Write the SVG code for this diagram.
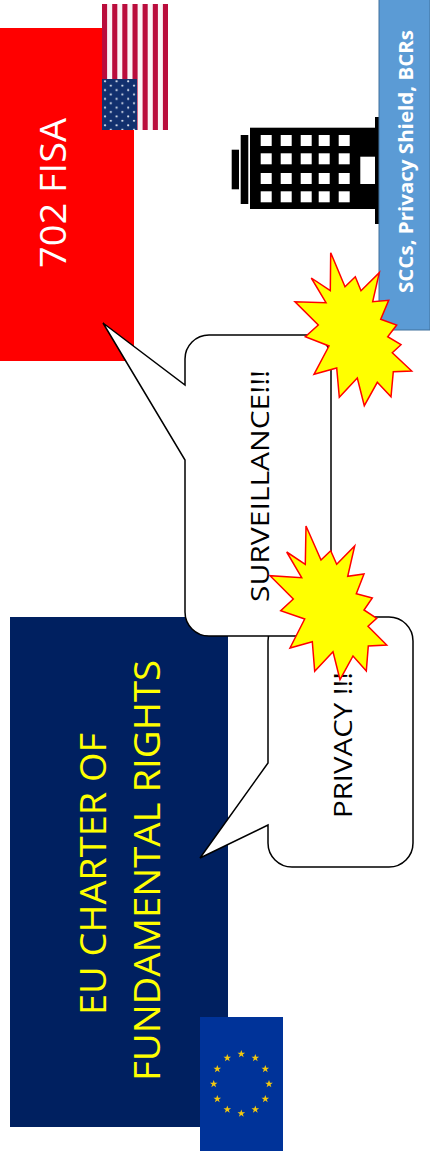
<svg xmlns="http://www.w3.org/2000/svg" width="430" height="1160" viewBox="0 0 430 1160">
<style>
.t{font-family:"Open Sans","Liberation Sans",sans-serif}
.call{fill:#fff;stroke:#000;stroke-width:1.5}
.burst{fill:#ff0;stroke:#f00;stroke-width:1.5}
.st{fill:#ba0c3c}
.w{fill:#fff}
.bk{fill:#000}
.eu{fill:#fc0;font-family:"DejaVu Sans",sans-serif;font-size:10px;text-anchor:middle}
</style>
<defs>
<pattern id="stars" x="102" y="79" width="11.6" height="8.8" patternUnits="userSpaceOnUse">
<rect width="11.6" height="8.8" fill="#12306e"/>
<circle cx="3" cy="2.2" r="1.1" fill="#dfe6f2"/>
<circle cx="8.8" cy="6.6" r="1.1" fill="#dfe6f2"/>
</pattern>
<polygon id="star" points="0,-4 1,-1.3 3.8,-1.2 1.5,0.5 2.4,3.2 0,1.6 -2.4,3.2 -1.5,0.5 -3.8,-1.2 -1,-1.3" fill="#f2c80f"/>
</defs>
<g id="fisa">
<rect x="0" y="28" width="134" height="333" fill="#f00"/>
<text class="t" transform="translate(66,268) rotate(-90)" font-size="36" fill="#fff" textLength="150" lengthAdjust="spacingAndGlyphs">702 FISA</text>
</g>
<g id="us-flag">
<rect x="102" y="4" width="66" height="126" fill="#fbf3f6"/>
<rect class="st" x="102" y="4" width="5.1" height="126"/>
<rect class="st" x="112.2" y="4" width="5.1" height="126"/>
<rect class="st" x="122.3" y="4" width="5.1" height="126"/>
<rect class="st" x="132.5" y="4" width="5.1" height="126"/>
<rect class="st" x="142.6" y="4" width="5.1" height="126"/>
<rect class="st" x="152.8" y="4" width="5.1" height="126"/>
<rect class="st" x="162.9" y="4" width="5.1" height="126"/>
<rect x="102" y="79" width="35" height="51" fill="url(#stars)"/>
</g>
<g id="building">
<rect class="bk" x="250" y="127.700" width="125" height="81.300"/>
<rect class="bk" x="375" y="117" width="6" height="107"/>
<rect class="bk" x="240.700" y="135" width="7.600" height="69"/>
<rect class="bk" x="231.700" y="149.700" width="7.300" height="39.600"/>
<g class="w">
<rect x="260.700" y="135" width="11" height="11"/><rect x="280.700" y="135" width="11" height="11"/><rect x="300.700" y="135" width="11" height="11"/><rect x="318.700" y="135" width="11" height="11"/><rect x="338.700" y="135" width="11" height="11"/>
<rect x="260.700" y="153.300" width="11" height="11"/><rect x="280.700" y="153.300" width="11" height="11"/><rect x="300.700" y="153.300" width="11" height="11"/><rect x="318.700" y="153.300" width="11" height="11"/><rect x="338.700" y="153.300" width="11" height="11"/>
<rect x="260.700" y="173" width="11" height="11"/><rect x="280.700" y="173" width="11" height="11"/><rect x="300.700" y="173" width="11" height="11"/><rect x="318.700" y="173" width="11" height="11"/><rect x="338.700" y="173" width="11" height="11"/>
<rect x="260.700" y="191.300" width="11" height="11"/><rect x="280.700" y="191.300" width="11" height="11"/><rect x="300.700" y="191.300" width="11" height="11"/><rect x="318.700" y="191.300" width="11" height="11"/><rect x="338.700" y="191.300" width="11" height="11"/>
<rect x="360.300" y="156.700" width="14.700" height="27.300"/>
</g>
</g>
<g id="mechanisms">
<path d="M379,-6H430V330H387Q379,330 379,322Z" fill="#5b9bd5" stroke="#41719c" stroke-width="1"/>
<text class="t" transform="translate(413,293) rotate(-90)" font-size="19" font-weight="700" fill="#fff" textLength="263" lengthAdjust="spacingAndGlyphs">SCCs, Privacy Shield, BCRs</text>
</g>
<g id="eu-charter">
<rect x="10" y="617" width="218" height="510" fill="#002060"/>
<text class="t" transform="translate(106,1015) rotate(-90)" font-size="36" fill="#ff0" textLength="282" lengthAdjust="spacingAndGlyphs">EU CHARTER OF</text>
<text class="t" transform="translate(160,1081) rotate(-90)" font-size="36" fill="#ff0" textLength="421" lengthAdjust="spacingAndGlyphs">FUNDAMENTAL RIGHTS</text>
</g>
<g id="eu-flag">
<rect x="200" y="1017" width="83" height="134" fill="#003399"/>
<use href="#star" x="241.300" y="1054"/><use href="#star" x="255.300" y="1058"/><use href="#star" x="265.300" y="1069"/><use href="#star" x="269" y="1084"/><use href="#star" x="265.300" y="1099"/><use href="#star" x="255.300" y="1109.500"/><use href="#star" x="241.300" y="1113.500"/><use href="#star" x="227.300" y="1109.500"/><use href="#star" x="217.300" y="1099"/><use href="#star" x="213.700" y="1084"/><use href="#star" x="217.300" y="1069"/><use href="#star" x="227.300" y="1058"/>
</g>
<g id="privacy-callout">
<path class="call" d="M292,617H389A24,24 0 0 1 413,641V843A24,24 0 0 1 389,867H292A24,24 0 0 1 268,843V825L200,858L268,763V641A24,24 0 0 1 292,617Z"/>
<text class="t" transform="translate(352,818) rotate(-90)" font-size="25" fill="#000" textLength="146" lengthAdjust="spacingAndGlyphs">PRIVACY !!!</text>
</g>
<g id="surveillance-callout">
<path class="call" d="M209,335H307A24,24 0 0 1 331,359V612A24,24 0 0 1 307,636H209A24,24 0 0 1 185,612V460L103,323L185,385V359A24,24 0 0 1 209,335Z"/>
<text class="t" transform="translate(269,602) rotate(-90)" font-size="25" fill="#000" textLength="232" lengthAdjust="spacingAndGlyphs">SURVEILLANCE!!!</text>
</g>
<g id="burst-top">
<polygon class="burst" points="330.700,252.700 345,286.700 355.300,276.700 361,290.700 379.300,272.700 372.700,301.700 388.700,300.300 380.700,319.300 396.700,325 387.700,336.700 401,344.700 392.300,352.700 411.700,371 393.300,371.700 391,396.700 377.300,382.300 364.300,405.700 357.300,378 339.300,397.300 336.700,368 314,374.300 329,346 305.300,336.700 318.300,325 295,301.700 326,302.700 311.300,278 330.300,290.700"/>
</g>
<g id="burst-bottom">
<polygon class="burst" points="306,526 321,560 330.700,550.700 336.700,564.300 354.700,546 347.700,576.300 364,574 356.300,593.700 372.300,598 364,610 376.700,618.300 368,626.300 386.700,645 368.300,646 366.300,671 353,656 340,679.700 333,651.700 314.700,671.300 312.300,641.700 290,648 304.700,619 280.700,610.700 293.300,599 270,575.700 301.700,577.700 286.700,552 305.300,564.300"/>
</g>
<g id="connectors"></g>
</svg>
